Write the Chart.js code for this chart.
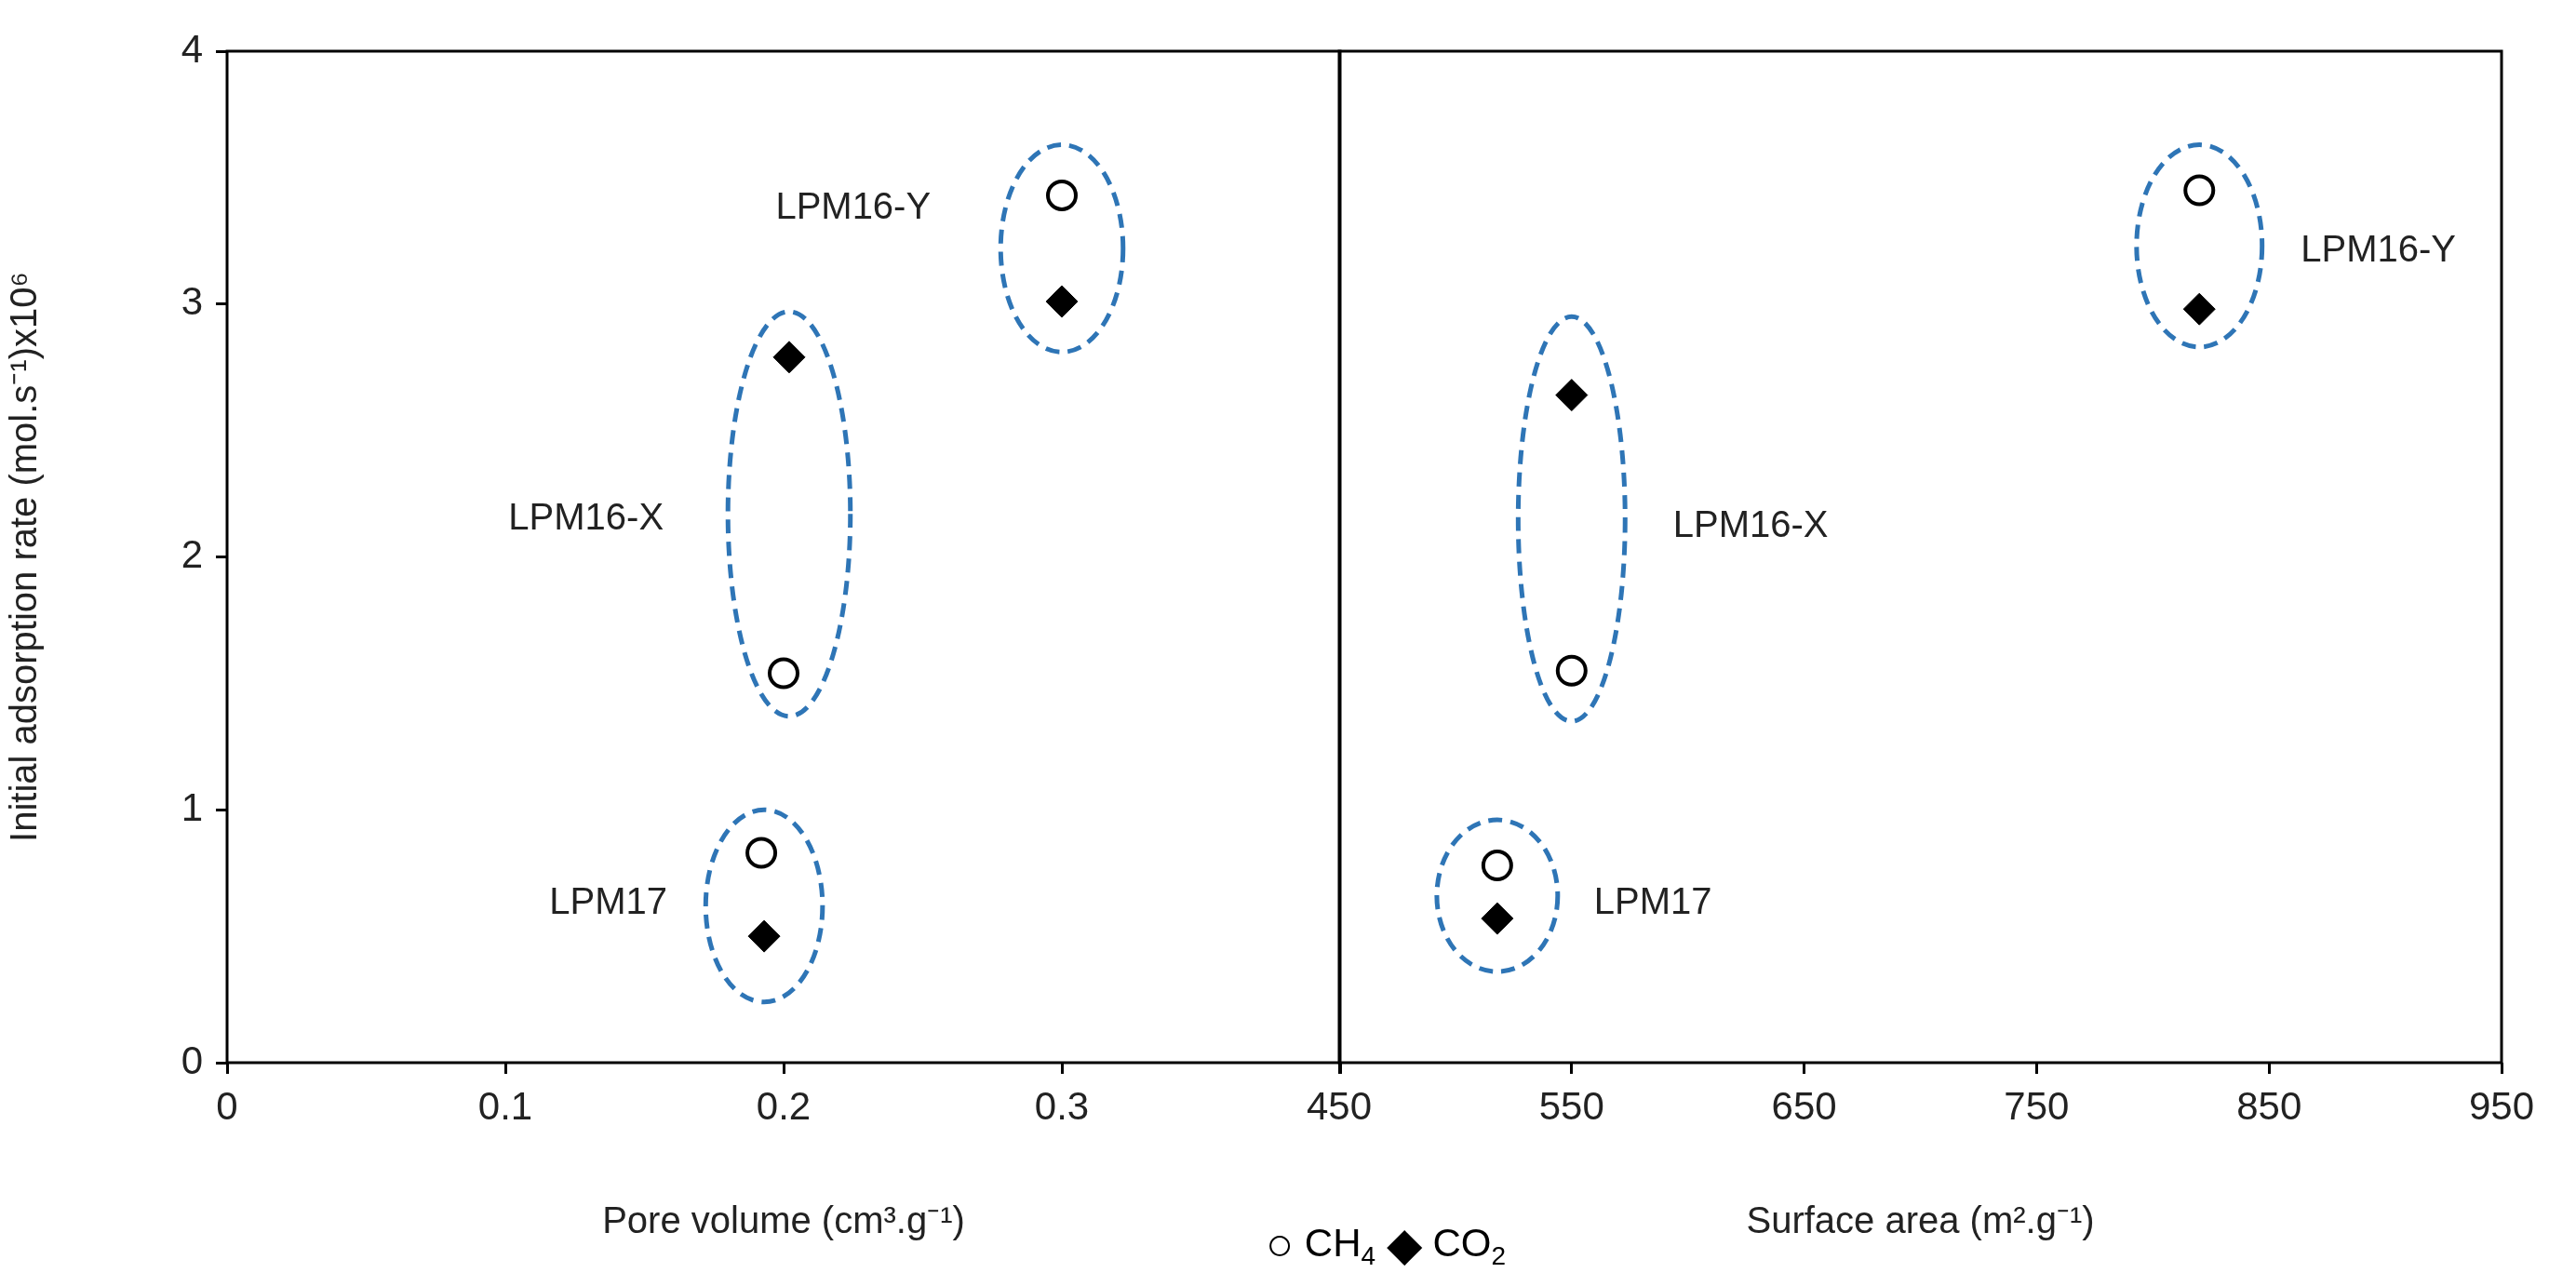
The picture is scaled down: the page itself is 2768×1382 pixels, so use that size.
<!DOCTYPE html>
<html>
<head>
<meta charset="utf-8">
<script src="https://cdn.jsdelivr.net/npm/chart.js@4.4.1/dist/chart.umd.min.js"></script>
<style>
  html, body { margin: 0; padding: 0; background: #fff; }
  #wrap { position: relative; width: 2768px; height: 1382px; font-family: 'Liberation Sans', Arial, sans-serif; }
  .panel { position: absolute; top: 0; height: 1382px; }
  #left { left: 0; width: 1459px; }
  #right { left: 1389px; width: 1379px; }
  #legend { position: absolute; top: 1308px; left: 1360px; font-size: 42px; color: #000; white-space: nowrap; }
  #legend .sym { font-size: 50px; vertical-align: -4px; }
  #legend sub { font-size: 28px; }
</style>
</head>
<body>
<div id="wrap">
  <div class="panel" id="left"><canvas id="chart-left"></canvas></div>
  <div class="panel" id="right"><canvas id="chart-right"></canvas></div>
  <div id="legend"><span class="sym">○</span> CH<sub>4</sub> <span class="sym">◆</span> CO<sub>2</sub></div>
</div>
<script>
// Left panel: pore volume
const poreCH4 = [{ x: 0.300, y: 3.43 }, { x: 0.200, y: 1.54 }, { x: 0.192, y: 0.83 }];
const poreCO2 = [{ x: 0.300, y: 3.01 }, { x: 0.202, y: 2.79 }, { x: 0.193, y: 0.50 }];
// Right panel: surface area
const areaCH4 = [{ x: 820, y: 3.45 }, { x: 550, y: 1.55 }, { x: 518, y: 0.78 }];
const areaCO2 = [{ x: 820, y: 2.98 }, { x: 550, y: 2.64 }, { x: 518, y: 0.57 }];

// group ellipses: centre x, centre y, half-width (x units), half-height (y units)
const poreEllipses = [[0.300, 3.22, 0.022, 0.41], [0.202, 2.17, 0.022, 0.80], [0.193, 0.62, 0.021, 0.38]];
const areaEllipses = [[820, 3.23, 27, 0.40], [550, 2.15, 23, 0.80], [518, 0.66, 26, 0.30]];
const poreLabels = [['LPM16-Y', 0.225, 3.38], ['LPM16-X', 0.129, 2.15], ['LPM17', 0.137, 0.63]];
const areaLabels = [['LPM16-Y', 897, 3.21], ['LPM16-X', 627, 2.12], ['LPM17', 585, 0.63]];

const yTicks = [0, 1, 2, 3, 4];
const FONT = "'Liberation Sans', Arial, sans-serif";

const annotate = (ellipses, labels) => ({
  id: 'annotate',
  afterDatasetsDraw(chart) {
    const { ctx, scales: { x, y }, chartArea: a } = chart;
    ctx.save();
    ctx.strokeStyle = '#2e75b6';
    ctx.lineWidth = 5;
    ctx.setLineDash([15, 9]);
    ellipses.forEach(([cx, cy, rx, ry]) => {
      const px = x.getPixelForValue(cx);
      const py = y.getPixelForValue(cy);
      ctx.beginPath();
      ctx.ellipse(px, py, Math.abs(x.getPixelForValue(cx + rx) - px), Math.abs(y.getPixelForValue(cy + ry) - py), 0, 0, Math.PI * 2);
      ctx.stroke();
    });
    ctx.setLineDash([]);
    ctx.fillStyle = '#222';
    ctx.font = `40px ${FONT}`;
    ctx.textAlign = 'center';
    ctx.textBaseline = 'middle';
    labels.forEach(([t, lx, ly]) => ctx.fillText(t, x.getPixelForValue(lx), y.getPixelForValue(ly)));
    ctx.strokeStyle = '#000';
    ctx.lineWidth = 3;
    ctx.strokeRect(a.left, a.top, a.right - a.left, a.bottom - a.top);
    ctx.restore();
  }
});

const datasets = (ch4, co2) => [
  { label: 'CH4', data: ch4, pointStyle: 'circle', pointRadius: 15, pointBorderWidth: 4,
    pointBorderColor: '#000', pointBackgroundColor: '#fff' },
  { label: 'CO2', data: co2, pointStyle: 'rectRot', pointRadius: 17, pointBorderWidth: 1,
    pointBorderColor: '#000', pointBackgroundColor: '#000' }
];

const xAxis = (min, max, step, title, cb) => ({
  type: 'linear', min, max,
  ticks: { stepSize: step, color: '#222', font: { size: 42, family: FONT }, padding: 12, callback: cb },
  grid: { drawOnChartArea: false, color: '#000', tickLength: 12, lineWidth: 3 },
  border: { display: false },
  title: { display: true, text: title, color: '#222', font: { size: 40, family: FONT }, padding: { top: 50 } },
  afterFit: (s) => { s.height = 200; }
});

new Chart(document.getElementById('chart-left'), {
  type: 'scatter',
  data: { datasets: datasets(poreCH4, poreCO2) },
  options: {
    responsive: true, maintainAspectRatio: false, animation: false,
    layout: { padding: { top: 55, right: 0, bottom: 40, left: 0 } },
    plugins: { legend: { display: false }, tooltip: { enabled: false } },
    scales: {
      x: xAxis(0, 0.4, 0.1, 'Pore volume (cm³.g⁻¹)', (v) => (Math.abs(v - 0.4) < 1e-9 ? '' : +v.toFixed(1))),
      y: {
        min: 0, max: 4,
        afterBuildTicks: (s) => { s.ticks = yTicks.map((v) => ({ value: v })); },
        ticks: { color: '#222', font: { size: 42, family: FONT }, padding: 14 },
        grid: { drawOnChartArea: false, color: '#000', tickLength: 12, lineWidth: 3 },
        border: { display: false },
        title: { display: true, text: 'Initial adsorption rate (mol.s⁻¹)x10⁶', color: '#222', font: { size: 40, family: FONT }, padding: { bottom: 20 } },
        afterFit: (s) => { s.width = 244; }
      }
    }
  },
  plugins: [annotate(poreEllipses, poreLabels)]
});

new Chart(document.getElementById('chart-right'), {
  type: 'scatter',
  data: { datasets: datasets(areaCH4, areaCO2) },
  options: {
    responsive: true, maintainAspectRatio: false, animation: false,
    layout: { padding: { top: 55, right: 80, bottom: 40, left: 50 } },
    plugins: { legend: { display: false }, tooltip: { enabled: false } },
    scales: {
      x: xAxis(450, 950, 100, 'Surface area (m².g⁻¹)'),
      y: { min: 0, max: 4, display: false }
    }
  },
  plugins: [annotate(areaEllipses, areaLabels)]
});
</script>
</body>
</html>
